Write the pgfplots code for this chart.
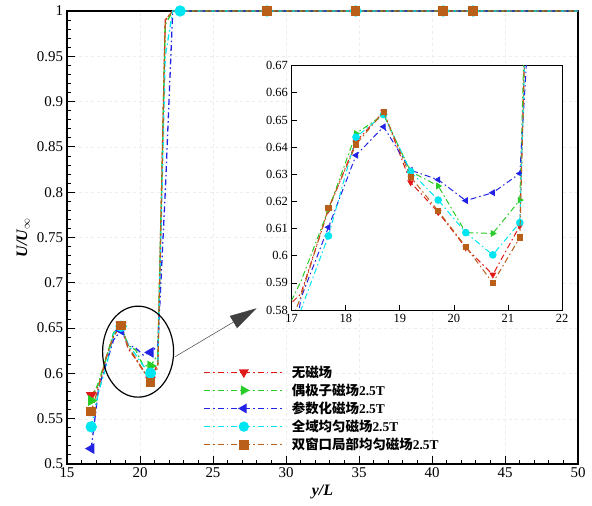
\documentclass[border=0pt]{standalone}
\usepackage{fontspec}
\setmainfont{Liberation Serif}
\newfontfamily\cjk{Noto Sans CJK SC}
\usepackage{pgfplots}
\usepackage{pgfplotstable}
\pgfplotsset{compat=1.18}
\usetikzlibrary{arrows.meta}

\definecolor{cred}{RGB}{225,25,25}
\definecolor{cgreen}{RGB}{40,205,40}
\definecolor{cblue}{RGB}{35,35,230}
\definecolor{ccyan}{RGB}{0,230,240}
\definecolor{cbrown}{RGB}{185,95,25}

% y/L and U/Uinf for the five cases
\pgfplotstableread{
x     red    green   blue    cyan    brown
16.66 0.576  0.570   0.517   0.541   0.558
17.17 0.586  0.5905  0.5843  0.580   0.585
17.68 0.617  0.617   0.6105  0.6073  0.6175
18.19 0.642  0.645   0.637   0.6437  0.641
18.70 0.653  0.652   0.6475  0.652   0.653
19.20 0.627  0.631   0.6315  0.631   0.629
19.71 0.616  0.6257  0.628   0.6205  0.6165
20.22 0.603  0.6085  0.6203  0.6085  0.6033
20.72 0.593  0.6082  0.6232  0.6003  0.590
21.22 0.611  0.6205  0.6303  0.6122  0.6067
21.73 0.990  0.985   0.800   0.950   0.990
22.24 1      1       1       1       1
22.75 1      1       1       1       1
28.70 1      1       1       1       1
34.77 1      1       1       1       1
40.77 1      1       1       1       1
42.82 1      1       1       1       1
50.00 1      1       1       1       1
}\profile

\pgfplotsset{
  dd/.style={dash pattern=on 6pt off 3pt on 1.5pt off 3pt},
  sred/.style={color=cred, dd, mark=triangle*, mark options={solid, fill=cred, draw=cred, rotate=180}},
  sgreen/.style={color=cgreen, dd, mark=triangle*, mark options={solid, fill=cgreen, draw=cgreen, rotate=-90}},
  sblue/.style={color=cblue, dd, mark=triangle*, mark options={solid, fill=cblue, draw=cblue, rotate=90}},
  scyan/.style={color=ccyan, dd, mark=*, mark options={solid, fill=ccyan, draw=ccyan}},
  sbrown/.style={color=cbrown, dd, mark=square*, mark options={solid, fill=cbrown, draw=cbrown}},
}

\begin{document}
\begin{tikzpicture}
\begin{axis}[
  name=main,
  scale only axis, width=511bp, height=453bp,
  xmin=15, xmax=50, ymin=0.5, ymax=1,
  xtick={15,20,...,50},
  ytick={0.5,0.55,0.6,0.65,0.7,0.75,0.8,0.85,0.9,0.95,1},
  minor tick num=4,
  tick align=inside, xtick pos=bottom, ytick pos=left,
  major tick length=8pt, minor tick length=4.5pt,
  every tick/.style={black, line width=0.9pt},
  axis line style={line width=1.2pt},
  ymajorgrids, xmajorgrids, major grid style={gray!15, dashed, line width=0.3pt},
  ticklabel style={font=\rmfamily\fontsize{15}{17}\selectfont},
  /pgf/number format/assume math mode=true,
  yticklabel style={/pgf/number format/fixed, /pgf/number format/precision=2},
  xlabel={\textbf{\textit{y/L}}},
  ylabel={\textbf{\textit{U/U}}$_{\infty}$},
  label style={font=\fontsize{16}{18}\selectfont},
  clip=false,
  line width=1.3pt,
  legend cell align=left,
  legend style={at={(0.26,0.227)}, anchor=north west, draw=none, fill=none,
    font=\fontsize{13.5}{15}\selectfont, row sep=1pt},
  legend image code/.code={\draw[#1, line width=1.3pt, mark size=4.5pt, mark indices={2}] plot coordinates {(0cm,0cm) (1.4cm,0cm) (2.8cm,0cm)}; \path (3cm,0cm);},
]
\addplot[sred, mark size=5pt, mark indices={1,5,9}] table[x=x, y=red] {\profile};
\addplot[sgreen, mark size=5pt, mark indices={1,5,9}] table[x=x, y=green] {\profile};
\addplot[sblue, mark size=5pt, mark indices={1,5,9}] table[x=x, y=blue] {\profile};
\addplot[scyan, mark size=5pt, mark indices={1,5,9,13,14,15,16,17}] table[x=x, y=cyan] {\profile};
\addplot[sbrown, mark size=4.2pt, mark indices={1,5,9,14,15,16,17}] table[x=x, y=brown] {\profile};
\legend{{\cjk\bfseries 无磁场}, {\cjk\bfseries 偶极子磁场}\textbf{2.5T}, {\cjk\bfseries 参数化磁场}\textbf{2.5T}, {\cjk\bfseries 全域均匀磁场}\textbf{2.5T}, {\cjk\bfseries 双窗口局部均匀磁场}\textbf{2.5T}}
\draw[line width=1.2pt] (axis cs:19.87,0.624) ellipse [x radius=35.5bp, y radius=45.5bp];
\draw[-{Triangle[length=27bp, width=14bp]}, line width=0.5pt, black!75] (axis cs:22.40,0.6184) -- (axis cs:27.99,0.6719);
\end{axis}

\begin{axis}[
  at={(224.7bp,154bp)}, anchor=south west,
  scale only axis, width=270.3bp, height=244.3bp,
  xmin=17, xmax=22, ymin=0.58, ymax=0.67,
  xtick={17,18,...,22},
  ytick={0.58,0.59,0.6,0.61,0.62,0.63,0.64,0.65,0.66,0.67},
  tick align=inside, xtick pos=bottom, ytick pos=left,
  major tick length=5pt,
  every tick/.style={black, line width=0.7pt},
  axis line style={line width=0.9pt},
  axis background/.style={fill=white},
  ticklabel style={font=\rmfamily\fontsize{12.5}{14}\selectfont},
  /pgf/number format/assume math mode=true,
  yticklabel style={/pgf/number format/fixed, /pgf/number format/precision=2},
  clip mode=individual,
  line width=1pt,
]
\addplot[sred, mark size=3pt, mark indices={2,3,4,5,6,7,8,9,10}] table[x=x, y=red] {\profile};
\addplot[sgreen, mark size=3pt, mark indices={2,3,4,5,6,7,8,9,10}] table[x=x, y=green] {\profile};
\addplot[sblue, mark size=3pt, mark indices={2,3,4,5,6,7,8,9,10}] table[x=x, y=blue] {\profile};
\addplot[scyan, mark size=3.3pt, mark indices={2,3,4,5,6,7,8,9,10}] table[x=x, y=cyan] {\profile};
\addplot[sbrown, mark size=2.6pt, mark indices={2,3,4,5,6,7,8,9,10}] table[x=x, y=brown] {\profile};
\end{axis}
\path ([shift={(-67bp,-42bp)}]main.south west) rectangle ([shift={(14bp,11bp)}]main.north east);
\end{tikzpicture}
\end{document}
